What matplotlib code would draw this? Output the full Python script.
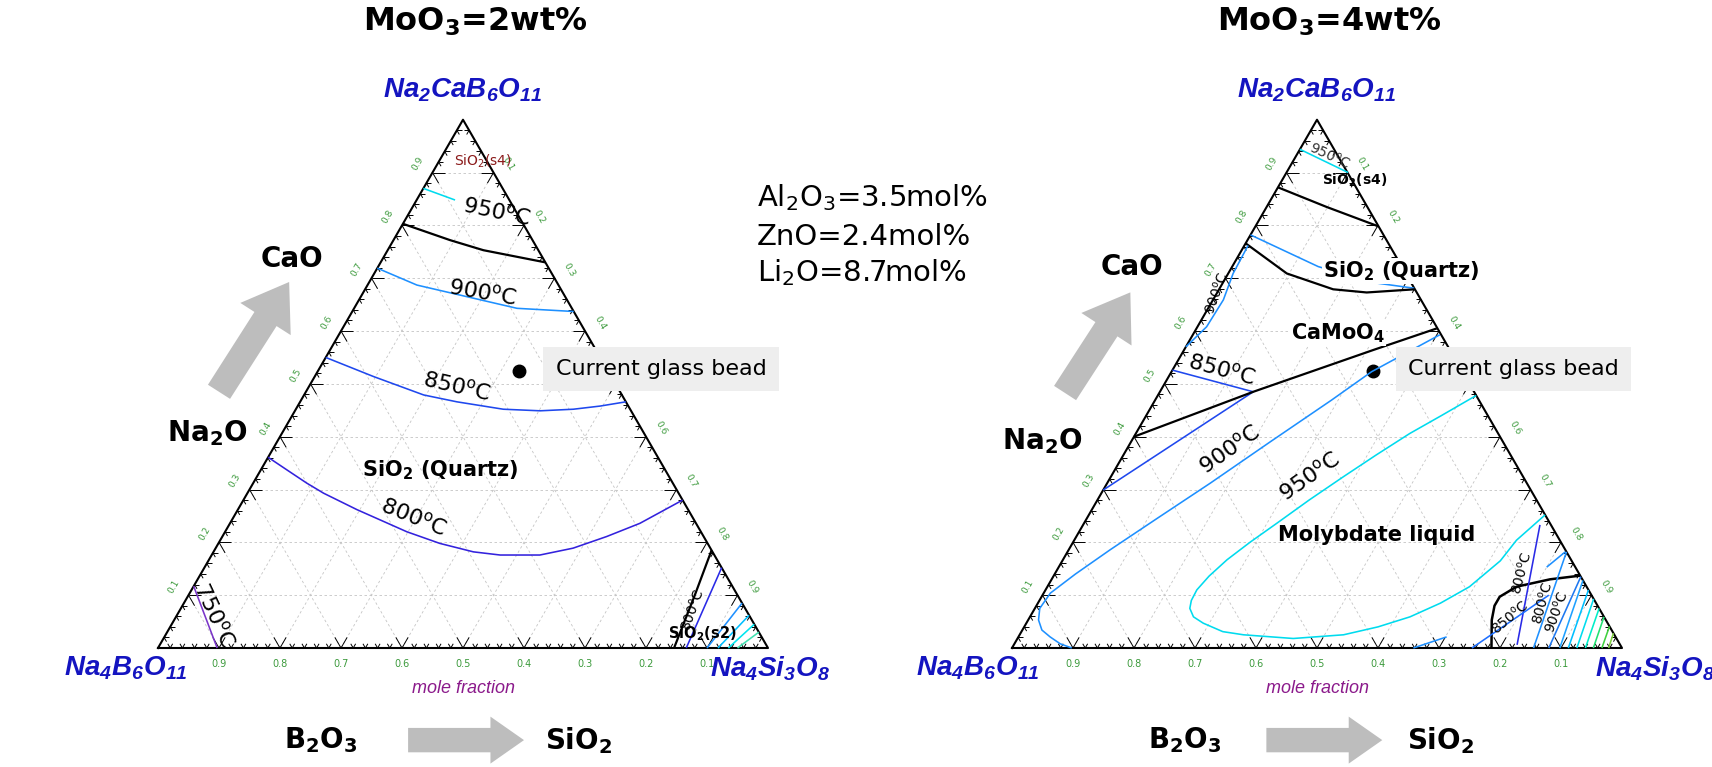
import matplotlib.pyplot as plt
import numpy as np
from matplotlib.collections import LineCollection
from matplotlib.patches import FancyArrow

SQ3 = np.sqrt(3) / 2

# every composition is (Na2CaB6O11 fraction, Na4Si3O8 fraction)
glass_bead = (0.525, 0.329)

# ---- MoO3 = 2 wt% ----
l_950 = [(0.870, 0.0), (0.848, 0.063)]
l_s4_bound = [(0.803, 0.0), (0.772, 0.093), (0.753, 0.157), (0.730, 0.270)]
l_900 = [(0.719, 0.0), (0.687, 0.081), (0.665, 0.174), (0.643, 0.267), (0.637, 0.363)]
l_850 = [(0.550, 0.0), (0.514, 0.096), (0.479, 0.196), (0.466, 0.257), (0.452, 0.340),
         (0.449, 0.402), (0.452, 0.455), (0.458, 0.496), (0.466, 0.534)]
l_800 = [(0.361, 0.0), (0.337, 0.043), (0.312, 0.088), (0.293, 0.125), (0.262, 0.195),
         (0.220, 0.298), (0.198, 0.363), (0.182, 0.426),
         (0.176, 0.473), (0.176, 0.538), (0.189, 0.586), (0.211, 0.630),
         (0.236, 0.672), (0.280, 0.720)]
l_750 = [(0.117, 0.0), (0.0, 0.097)]
l_s2_bound = [(0.0, 0.846), (0.100, 0.830), (0.185, 0.815)]
l_corner = [
    ([(0.0, 0.866), (0.152, 0.848)], '#2a2ae6'),
    ([(0.0, 0.900), (0.085, 0.915)], '#1e90ff'),
    ([(0.0, 0.918), (0.062, 0.938)], '#00bfff'),
    ([(0.0, 0.935), (0.045, 0.955)], '#00e5ee'),
    ([(0.0, 0.950), (0.030, 0.970)], '#40e0b0'),
]

# ---- MoO3 = 4 wt% ----
r_950_top = [(0.944, 0.0), (0.900, 0.101)]
r_s4_bound = [(0.872, 0.0), (0.835, 0.098), (0.798, 0.202)]
r_900_top = [(0.782, 0.0), (0.722, 0.141), (0.692, 0.244), (0.681, 0.319)]
r_quartz_bound = [(0.766, 0.0), (0.709, 0.096), (0.679, 0.187), (0.673, 0.245), (0.679, 0.321)]
r_900_edge = [(0.762, 0.006), (0.709, 0.008), (0.659, 0.017), (0.608, 0.015), (0.570, 0.0)]
r_camoo4_bound = [(0.400, 0.0), (0.485, 0.153), (0.564, 0.310), (0.605, 0.394)]
r_850 = [(0.526, 0.0), (0.485, 0.153), (0.299, 0.0)]
r_900_loop = [(0.593, 0.405), (0.523, 0.328), (0.469, 0.289), (0.390, 0.228),
              (0.312, 0.169), (0.245, 0.115), (0.186, 0.068), (0.140, 0.034),
              (0.104, 0.011), (0.075, 0.008), (0.053, 0.017), (0.034, 0.032),
              (0.021, 0.052), (0.008, 0.075), (0.0, 0.098)]
r_950_loop = [(0.478, 0.522), (0.440, 0.484), (0.406, 0.449), (0.365, 0.414),
              (0.324, 0.381), (0.280, 0.347), (0.236, 0.316), (0.200, 0.290),
              (0.167, 0.269), (0.136, 0.255), (0.110, 0.248), (0.090, 0.249),
              (0.075, 0.254), (0.059, 0.268), (0.047, 0.290),
              (0.031, 0.330), (0.025, 0.367), (0.018, 0.452), (0.025, 0.531),
              (0.040, 0.580), (0.059, 0.623), (0.085, 0.660), (0.116, 0.692),
              (0.165, 0.718), (0.204, 0.725), (0.252, 0.748)]
r_low_bound = [(0.0, 0.786), (0.053, 0.760), (0.080, 0.751), (0.097, 0.751),
               (0.116, 0.769), (0.130, 0.817), (0.137, 0.863)]
r_corner = [
    ([(0.006, 0.825), (0.233, 0.749)], '#2a2ae6'),
    ([(0.0, 0.754), (0.100, 0.830)], '#1e6fff'),
    ([(0.0, 0.855), (0.182, 0.818)], '#1e90ff'),
    ([(0.0, 0.880), (0.135, 0.865)], '#1e78f0'),
    ([(0.153, 0.800), (0.182, 0.816)], '#1e90ff'),
    ([(0.0, 0.658), (0.021, 0.702)], '#1e90ff'),
]
corner_r0 = [0.898, 0.912, 0.926, 0.940, 0.953, 0.967, 0.978]
corner_t1 = [0.128, 0.110, 0.093, 0.075, 0.059, 0.041, 0.028]
corner_cols = ['#1ea0ff', '#00bfff', '#00dcee', '#00eec8', '#20e070', '#40d040', '#80d040']

oxide_lines = ['Al$_{\\mathdefault{2}}$O$_{\\mathdefault{3}}$=3.5mol%',
               'ZnO=2.4mol%',
               'Li$_{\\mathdefault{2}}$O=8.7mol%']

C950, C900, C850, C800, C750 = '#00dbee', '#1e90ff', '#1f48ee', '#3322dd', '#7a35c8'
GREEN = '#3c9a3c'
VBLUE = '#1414c0'


def to_xy(pts):
    p = np.asarray(pts, float)
    return p[:, 1] + p[:, 0] / 2, p[:, 0] * SQ3


def curve(ax, pts, color, lw=1.15):
    x, y = to_xy(pts)
    ax.plot(x, y, color=color, lw=lw, solid_capstyle='butt', solid_joinstyle='round')


def deg(v):
    return str(v) + '$^{\\mathdefault{o}}$C'


def frame(ax):
    ax.set_xlim(-0.25, 1.15)
    ax.set_ylim(-0.19, 1.05)
    ax.axis('off')
    grid = []
    for k in np.arange(1, 10) / 10:
        grid.append([(k / 2, k * SQ3), (k / 2 + 1 - k, k * SQ3)])
        grid.append([(k, 0), (k + (1 - k) / 2, (1 - k) * SQ3)])
        grid.append([(1 - k, 0), ((1 - k) / 2, (1 - k) * SQ3)])
    ax.add_collection(LineCollection(grid, colors='#c4c4c4', linewidths=0.6,
                                     linestyles=(0, (3, 3))))
    d60 = np.array([0.5, SQ3])
    d120 = np.array([-0.5, SQ3])
    d0 = np.array([1.0, 0.0])
    dm60 = np.array([0.5, -SQ3])
    d180 = np.array([-1.0, 0.0])
    d240 = np.array([-0.5, -SQ3])
    ticks = []
    for k in range(1, 50):
        f = k / 50
        ln = 0.02 if k % 5 == 0 else 0.008
        pb = np.array([f, 0.0])
        pl = np.array([f / 2, f * SQ3])
        pr = np.array([f + (1 - f) / 2, (1 - f) * SQ3])
        for p, dirs in ((pb, (d60, d120)), (pl, (d0, dm60)), (pr, (d180, d240))):
            for d in dirs:
                ticks.append([p, p + ln * d])
    ax.add_collection(LineCollection(ticks, colors='black', linewidths=0.7))
    ax.plot([0, 1, 0.5, 0], [0, 0, SQ3, 0], color='black', lw=1.5)
    for v in np.arange(1, 10) / 10:
        ax.text(v, -0.026, f'{1 - v:.1f}', color=GREEN, fontsize=7,
                ha='center', va='center')
        ax.text(v / 2 - 0.024, v * SQ3 + 0.014, f'{v:.1f}', color=GREEN,
                fontsize=6.5, rotation=60, ha='center', va='center')
        ax.text(v + (1 - v) / 2 + 0.024, (1 - v) * SQ3 + 0.014, f'{v:.1f}',
                color=GREEN, fontsize=6.5, rotation=-60, ha='center', va='center')
    vfont = dict(family='Liberation Sans', weight='bold', style='italic',
                 color=VBLUE, fontsize=20, ha='center', va='center')
    ax.text(0.5, 0.914, 'Na$_{\\mathdefault{2}}$CaB$_{\\mathdefault{6}}$O$_{\\mathdefault{11}}$', **vfont)
    ax.text(0.5, -0.066, 'mole fraction', family='Liberation Sans', style='italic',
            color='#8b1a8b', fontsize=13, ha='center', va='center')
    bx, by = to_xy([glass_bead])
    ax.plot(bx, by, 'o', color='black', ms=9)
    return vfont


def outside(ax, title, bl_x, br_x, cao, na2o, arrow_tail, arrow_tip, bx):
    vfont = frame(ax)
    ax.text(bl_x, -0.033, 'Na$_{\\mathdefault{4}}$B$_{\\mathdefault{6}}$O$_{\\mathdefault{11}}$', **vfont)
    ax.text(br_x, -0.033, 'Na$_{\\mathdefault{4}}$Si$_{\\mathdefault{3}}$O$_{\\mathdefault{8}}$', **vfont)
    ax.text(0.52, 1.026, title, fontsize=23, weight='bold', ha='center', va='center')
    big = dict(fontsize=20, weight='bold', ha='center', va='center')
    ax.text(cao[0], cao[1], 'CaO', **big)
    ax.text(na2o[0], na2o[1], 'Na$_{\\mathdefault{2}}$O', **big)
    ax.text(bx[0], -0.151, 'B$_{\\mathdefault{2}}$O$_{\\mathdefault{3}}$', **big)
    ax.text(bx[3], -0.151, 'SiO$_{\\mathdefault{2}}$', **big)
    ax.add_patch(FancyArrow(bx[1], -0.151, bx[2] - bx[1], 0, width=0.04,
                            head_width=0.077, head_length=0.055,
                            length_includes_head=True, color='#bdbdbd',
                            lw=0, clip_on=False))
    ax.add_patch(FancyArrow(arrow_tail[0], arrow_tail[1],
                            arrow_tip[0] - arrow_tail[0], arrow_tip[1] - arrow_tail[1],
                            width=0.043, head_width=0.098, head_length=0.072,
                            length_includes_head=True, color='#bdbdbd',
                            lw=0, clip_on=False))


fig = plt.figure(figsize=(17.12, 7.67), dpi=100)
W, H = 1712, 767
ax1 = fig.add_axes([5.5 / W, 3.1 / H, 854 / W, 756.4 / H])
ax2 = fig.add_axes([859.5 / W, 3.1 / H, 854 / W, 756.4 / H])

# ---------- left panel ----------
outside(ax1, 'MoO$_{\\mathdefault{3}}$=2wt%', -0.053, 1.003, (0.219, 0.638),
        (0.081, 0.352), (0.100, 0.420), (0.215, 0.600), (0.267, 0.410, 0.600, 0.690))
curve(ax1, l_950, C950)
curve(ax1, l_s4_bound, 'black', 1.6)
curve(ax1, l_900, C900)
curve(ax1, l_850, C850)
curve(ax1, l_800, C800)
curve(ax1, l_750, C750)
curve(ax1, l_s2_bound, 'black', 1.6)
for pts, c in l_corner:
    curve(ax1, pts, c)

lab = dict(fontsize=16, ha='center', va='center')
ax1.text(0.555, 0.715, deg(950), rotation=-12, **lab)
ax1.text(0.533, 0.582, deg(900), rotation=-10, **lab)
ax1.text(0.490, 0.428, deg(850), rotation=-13, **lab)
ax1.text(0.419, 0.215, deg(800), rotation=-22, **lab)
ax1.text(0.093, 0.054, deg(750), rotation=-65, **lab)
ax1.text(0.462, 0.292, 'SiO$_{\\mathdefault{2}}$ (Quartz)', fontsize=15, weight='bold',
         ha='center', va='center')
ax1.text(0.533, 0.798, 'SiO$_{\\mathdefault{2}}$(s4)', fontsize=10, color='#8b1a1a',
         ha='center', va='center')
ax1.text(0.877, 0.062, deg(800), fontsize=10, rotation=70, ha='center', va='center')
ax1.text(0.892, 0.024, 'SiO$_{\\mathdefault{2}}$(s2)', fontsize=10.5, weight='bold',
         ha='center', va='center')
ax1.text(0.652, 0.457, 'Current glass bead', fontsize=16, ha='left', va='center',
         bbox=dict(boxstyle='square,pad=0.55', fc='#eeeeee', ec='none'))
for i, s in enumerate(oxide_lines):
    ax1.text(0.9815, [0.7246, 0.6607, 0.6005][i], s, fontsize=21, ha='left',
             va='baseline')

# ---------- right panel ----------
outside(ax2, 'MoO$_{\\mathdefault{3}}$=4wt%', -0.056, 1.055, (0.196, 0.624),
        (0.050, 0.339), (0.087, 0.418), (0.194, 0.583), (0.283, 0.417, 0.607, 0.703))
curve(ax2, r_950_top, C950)
curve(ax2, r_s4_bound, 'black', 1.6)
curve(ax2, r_900_top, C900)
curve(ax2, r_quartz_bound, 'black', 1.6)
curve(ax2, r_900_edge, C900)
curve(ax2, r_850, C850)
curve(ax2, r_camoo4_bound, 'black', 1.6)
curve(ax2, r_900_loop, C900)
curve(ax2, r_950_loop, C950)
curve(ax2, r_low_bound, 'black', 1.8)
for pts, c in r_corner:
    curve(ax2, pts, c)
for r0, t1, c in zip(corner_r0, corner_t1, corner_cols):
    curve(ax2, [(0.0, r0), (t1, 1 - t1)], c)

ax2.text(0.521, 0.808, deg(950), fontsize=10, color='#333333', rotation=-25,
         ha='center', va='center')
ax2.text(0.562, 0.767, 'SiO$_{\\mathdefault{2}}$(s4)', fontsize=10, weight='bold',
         ha='center', va='center')
ax2.text(0.639, 0.618, 'SiO$_{\\mathdefault{2}}$ (Quartz)', fontsize=15, weight='bold',
         ha='center', va='center',
         bbox=dict(boxstyle='square,pad=0.05', fc='white', ec='none'))
ax2.text(0.336, 0.582, deg(900), fontsize=10, rotation=70, ha='center', va='center')
ax2.text(0.535, 0.516, 'CaMoO$_{\\mathdefault{4}}$', fontsize=15, weight='bold',
         ha='center', va='center',
         bbox=dict(boxstyle='square,pad=0.05', fc='white', ec='none'))
ax2.text(0.344, 0.456, deg(850), rotation=-15, **lab)
ax2.text(0.357, 0.325, deg(900), rotation=35, **lab)
ax2.text(0.489, 0.281, deg(950), rotation=35, **lab)
ax2.text(0.598, 0.185, 'Molybdate liquid', fontsize=15, weight='bold',
         ha='center', va='center')
small = dict(fontsize=10, ha='center', va='center')
ax2.text(0.836, 0.123, deg(800), rotation=75, **small)
ax2.text(0.816, 0.051, deg(850), rotation=40, **small)
ax2.text(0.870, 0.074, deg(800), rotation=75, **small)
ax2.text(0.893, 0.060, deg(900), rotation=70, **small)
ax2.text(0.649, 0.457, 'Current glass bead', fontsize=16, ha='left', va='center',
         bbox=dict(boxstyle='square,pad=0.55', fc='#eeeeee', ec='none'))

fig.savefig('out.png', dpi=100)
